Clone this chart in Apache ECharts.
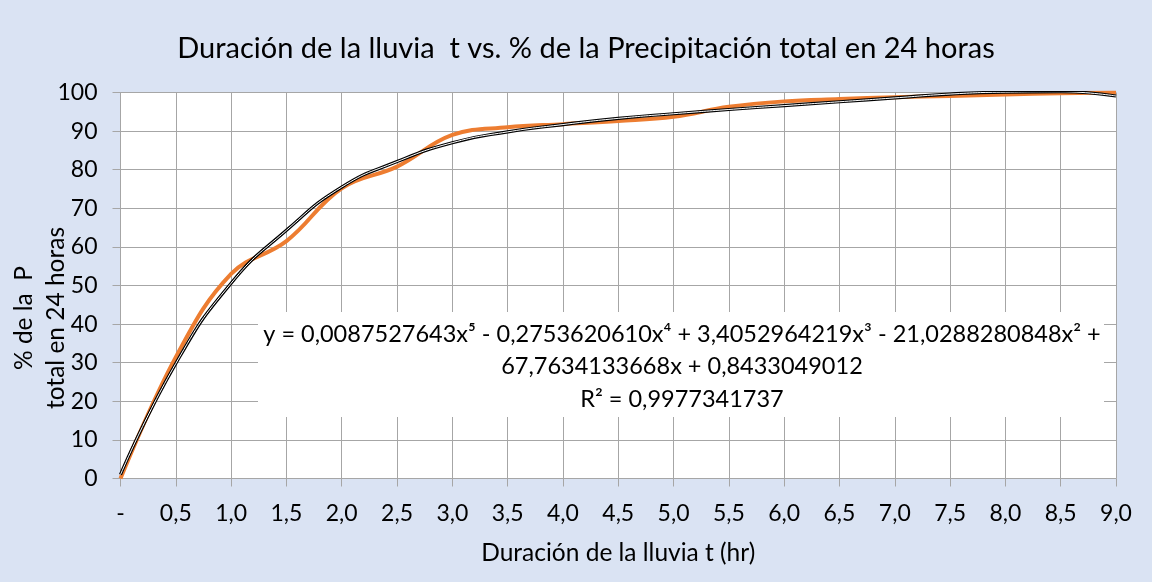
<!DOCTYPE html>
<html>
<head>
<meta charset="utf-8">
<script src="https://cdn.jsdelivr.net/npm/echarts@6/dist/echarts.min.js"></script>
<style>
  html, body { margin: 0; padding: 0; background: #dae3f3; }
  #chart { width: 1152px; height: 582px; }
</style>
</head>
<body>
<div id="chart"></div>
<script>
// Duración de la lluvia (hr), eje de categorías
const categories = ['-', '0,5', '1,0', '1,5', '2,0', '2,5', '3,0', '3,5', '4,0', '4,5',
  '5,0', '5,5', '6,0', '6,5', '7,0', '7,5', '8,0', '8,5', '9,0'];

// % de la precipitación total en 24 horas
const precipitacion = [0, 31.4, 53.0, 61.5, 75.2, 80.8, 89.0, 91.0, 91.8, 92.6,
  93.7, 96.3, 97.7, 98.3, 98.8, 99.1, 99.5, 99.8, 100];

// Línea de tendencia polinómica (grado 5)
const tendencia = [1.0, 29.8, 50.6, 64.3, 75.5, 82.1, 87.0, 89.8, 91.7, 93.3,
  94.5, 95.6, 96.6, 97.6, 98.6, 99.6, 100.1, 100.2, 99.1];

// Escala del eje Y
const yMin = 0, yMax = 100, yStep = 10;

// Título del eje Y (dos renglones)
const yTitulo = ['% de la  P', 'total en 24 horas'];

// Ecuación y R² de la tendencia
const ecuacion = [
  'y = 0,0087527643x⁵ - 0,2753620610x⁴ + 3,4052964219x³ - 21,0288280848x² +',
  '67,7634133668x + 0,8433049012',
  'R² = 0,9977341737'
];

const FONT = 'Lato, "DejaVu Sans", sans-serif';
const GRID_COLOR = '#a6a6a6';

const chart = echarts.init(document.getElementById('chart'));
chart.setOption({
  backgroundColor: '#dae3f3',
  animation: false,
  title: {
    text: 'Duración de la lluvia  t vs. % de la Precipitación total en 24 horas',
    left: 581,
    textAlign: 'center',
    top: 29,
    textStyle: { fontFamily: FONT, fontSize: 29, fontWeight: 'normal', color: '#000' }
  },
  grid: {
    left: 120.5, right: 36, top: 92.5, bottom: 103.5,
    containLabel: false, outerBoundsMode: 'none',
    show: true, backgroundColor: '#fff', borderWidth: 0
  },
  xAxis: {
    type: 'category',
    data: categories,
    boundaryGap: false,
    name: 'Duración de la lluvia t (hr)',
    nameLocation: 'middle',
    nameGap: 62,
    nameTextStyle: { fontFamily: FONT, fontSize: 24.5, color: '#000' },
    axisLine: { show: true, lineStyle: { color: GRID_COLOR, width: 1 } },
    axisTick: { show: true, interval: 0, length: 8, lineStyle: { color: GRID_COLOR } },
    axisLabel: { interval: 0, margin: 24, fontFamily: FONT, fontSize: 23, color: '#000' },
    splitLine: { show: true, interval: 0, lineStyle: { color: GRID_COLOR, width: 1 } }
  },
  yAxis: {
    type: 'value',
    min: yMin, max: yMax, interval: yStep,
    axisLine: { show: true, lineStyle: { color: GRID_COLOR, width: 1 } },
    axisTick: { show: true, length: 8, lineStyle: { color: GRID_COLOR } },
    axisLabel: { margin: 23, fontFamily: FONT, fontSize: 23, color: '#000' },
    splitLine: { show: true, lineStyle: { color: GRID_COLOR, width: 1 } }
  },
  graphic: [
    {
      // título del eje Y, girado
      type: 'text', z: 2,
      x: 40, y: 318,
      rotation: Math.PI / 2,
      style: {
        text: yTitulo.join('\n'),
        font: '24.5px ' + FONT,
        fill: '#000',
        align: 'center', verticalAlign: 'middle',
        textAlign: 'center', textVerticalAlign: 'middle',
        lineHeight: 32
      }
    },
    {
      // recuadro blanco de la etiqueta de la ecuación
      type: 'rect', z: 1,
      shape: { x: 258, y: 312, width: 846, height: 105 },
      style: { fill: '#ffffff' }
    },
    {
      type: 'text', z: 2,
      x: 682, y: 318,
      style: {
        text: ecuacion.join('\n'),
        font: '23.5px ' + FONT,
        fill: '#000',
        align: 'center',
        textAlign: 'center',
        lineHeight: 32.5
      }
    }
  ],
  series: [
    {
      name: '% de la P total en 24 horas',
      type: 'line',
      data: precipitacion,
      smooth: 0.4,
      showSymbol: false,
      z: 3,
      lineStyle: { color: '#ed7d31', width: 4 }
    },
    {
      name: 'Polinómica',
      type: 'line',
      data: tendencia,
      smooth: 0.5,
      showSymbol: false,
      z: 4,
      lineStyle: { color: '#000', width: 3.2 }
    },
    {
      name: 'Polinómica (interior)',
      type: 'line',
      data: tendencia,
      smooth: 0.5,
      showSymbol: false,
      z: 5,
      lineStyle: { color: '#fff', width: 1 }
    }
  ]
});
</script>
</body>
</html>
